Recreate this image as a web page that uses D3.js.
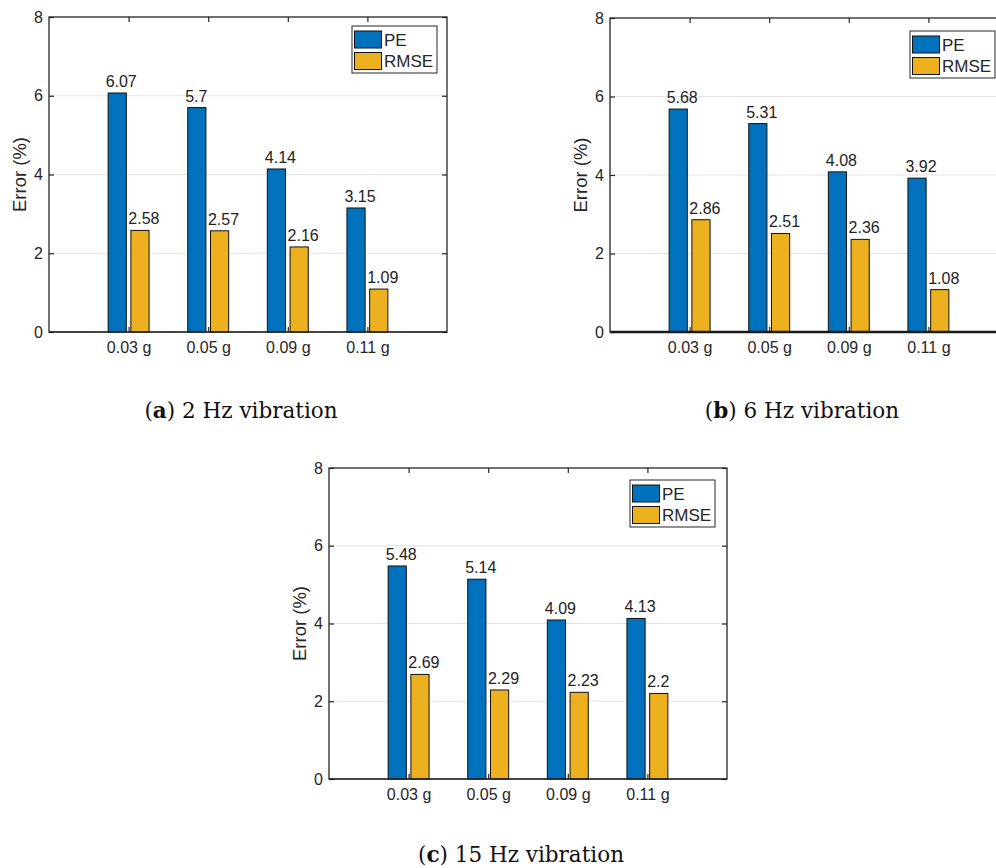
<!DOCTYPE html>
<html>
<head>
<meta charset="utf-8">
<script src="https://cdn.jsdelivr.net/npm/d3@7"></script>
<style>
  html, body { margin: 0; padding: 0; background: #fff; }
  svg { display: block; }
</style>
</head>
<body>
<svg id="fig" width="996" height="868"></svg>
<script>
// Accelerations tested, shared by every panel
const categories = ["0.03 g", "0.05 g", "0.09 g", "0.11 g"];
const seriesNames = ["PE", "RMSE"];
const seriesColors = ["#0072BD", "#EDB120"];

// (a) 2 Hz
const peA   = [6.07, 5.7, 4.14, 3.15];
const rmseA = [2.58, 2.57, 2.16, 1.09];
// (b) 6 Hz
const peB   = [5.68, 5.31, 4.08, 3.92];
const rmseB = [2.86, 2.51, 2.36, 1.08];
// (c) 15 Hz
const peC   = [5.48, 5.14, 4.09, 4.13];
const rmseC = [2.69, 2.29, 2.23, 2.2];

const yTicks = [0, 2, 4, 6, 8];
const gridTicks = [2, 4, 6];
const yLabel = "Error (%)";
const captionTags = ["a", "b", "c"];
const captionTexts = [" 2 Hz vibration", " 6 Hz vibration", " 15 Hz vibration"];

// Panel placement on the page
const panels = [
  { pe: peA, rmse: rmseA, left: 49,  top: 17,  bottom: 332, legTop: 9,  legRight: 10, base: 1,   capY: 418 },
  { pe: peB, rmse: rmseB, left: 610, top: 18,  bottom: 332, legTop: 13, legRight: 13, base: 2.4, capY: 418 },
  { pe: peC, rmse: rmseC, left: 329, top: 468, bottom: 779, legTop: 12, legRight: 12, base: 1,   capY: 862 }
];
const plotWidth = 398;

const svg = d3.select("#fig");
const sansFont = "'Liberation Sans', Arial, Helvetica, sans-serif";
const axisColor = "#262626";

panels.forEach((p, idx) => {
  const g = svg.append("g");
  const right = p.left + plotWidth;

  const x = d3.scalePoint().domain(categories).range([p.left, right]).padding(1);
  const y = d3.scaleLinear().domain([0, 8]).range([p.bottom, p.top]);
  const step = x.step();

  // grouped-bar geometry (two series per group)
  const groupWidth = 2 / 3.5;
  const barW = groupWidth / 2 * 0.8 * step;
  const offsets = [-groupWidth / 4 * step, groupWidth / 4 * step];

  // horizontal grid
  g.append("g").selectAll("line").data(gridTicks).join("line")
    .attr("x1", p.left).attr("x2", right)
    .attr("y1", d => y(d)).attr("y2", d => y(d))
    .attr("stroke", "#e3e3e3").attr("stroke-width", 1);

  const series = [p.pe, p.rmse];

  // bars
  series.forEach((vals, si) => {
    g.append("g").selectAll("rect").data(vals).join("rect")
      .attr("x", (d, i) => x(categories[i]) + offsets[si] - barW / 2)
      .attr("y", d => y(d))
      .attr("width", barW)
      .attr("height", d => y(0) - y(d))
      .attr("fill", seriesColors[si])
      .attr("stroke", "#111")
      .attr("stroke-width", 1);
  });

  // value labels
  series.forEach((vals, si) => {
    g.append("g").selectAll("text").data(vals).join("text")
      .attr("x", (d, i) => x(categories[i]) + offsets[si] - barW / 2 - 2.5)
      .attr("y", d => y(d) - 6)
      .attr("font-family", sansFont)
      .attr("font-size", 16)
      .attr("fill", "#222")
      .text(d => String(d));
  });

  // axes with inward ticks
  const left = g.append("g").attr("transform", `translate(${p.left},0)`)
    .call(d3.axisLeft(y).tickValues(yTicks).tickSize(-5).tickPadding(6).tickFormat(d3.format("d")));
  const rightAx = g.append("g").attr("transform", `translate(${right},0)`)
    .call(d3.axisRight(y).tickValues(yTicks).tickSize(-5).tickFormat(""));
  const bottom = g.append("g").attr("transform", `translate(0,${p.bottom})`)
    .call(d3.axisBottom(x).tickSize(-5).tickPadding(10));
  const topAx = g.append("g").attr("transform", `translate(0,${p.top})`)
    .call(d3.axisTop(x).tickSize(-5).tickFormat(""));

  [left, rightAx, bottom, topAx].forEach(a => {
    a.select(".domain").remove();
    a.selectAll(".tick line").attr("stroke", axisColor).attr("stroke-width", 1.2);
    a.selectAll(".tick text")
      .attr("font-family", sansFont)
      .attr("font-size", 16)
      .attr("fill", axisColor);
  });

  // axes box
  g.append("rect")
    .attr("x", p.left).attr("y", p.top)
    .attr("width", plotWidth).attr("height", p.bottom - p.top)
    .attr("fill", "none").attr("stroke", axisColor).attr("stroke-width", 1.3);
  // bar baseline
  g.append("line")
    .attr("x1", p.left).attr("x2", right)
    .attr("y1", y(0)).attr("y2", y(0))
    .attr("stroke", "#1a1a1a").attr("stroke-width", p.base);

  // y label
  g.append("text")
    .attr("transform", `translate(${p.left - 23},${(p.top + p.bottom) / 2}) rotate(-90)`)
    .attr("text-anchor", "middle")
    .attr("font-family", sansFont)
    .attr("font-size", 18.5)
    .attr("fill", axisColor)
    .text(yLabel);

  // legend
  const legW = 85, legH = 47;
  const lx = right - p.legRight - legW, ly = p.top + p.legTop;
  const leg = g.append("g").attr("transform", `translate(${lx},${ly})`);
  leg.append("rect").attr("width", legW).attr("height", legH)
    .attr("fill", "#fff").attr("stroke", axisColor).attr("stroke-width", 1);
  seriesNames.forEach((name, si) => {
    const cy = 13.5 + si * 21.5;
    leg.append("rect")
      .attr("x", 2.5).attr("y", cy - 8.5).attr("width", 27).attr("height", 17)
      .attr("fill", seriesColors[si]).attr("stroke", "#111").attr("stroke-width", 1);
    leg.append("text")
      .attr("x", 32).attr("y", cy).attr("dy", "0.36em")
      .attr("font-family", sansFont).attr("font-size", 17)
      .attr("fill", axisColor)
      .text(name);
  });

  // caption
  const cap = svg.append("text")
    .attr("x", (p.left + right) / 2 - 7)
    .attr("y", p.capY)
    .attr("text-anchor", "middle")
    .attr("font-family", "'DejaVu Serif', 'Liberation Serif', serif")
    .attr("font-size", 21.5)
    .attr("fill", "#111");
  cap.append("tspan").text("(");
  cap.append("tspan").attr("font-weight", "bold").text(captionTags[idx]);
  cap.append("tspan").text(")" + captionTexts[idx]);
});
</script>
</body>
</html>
